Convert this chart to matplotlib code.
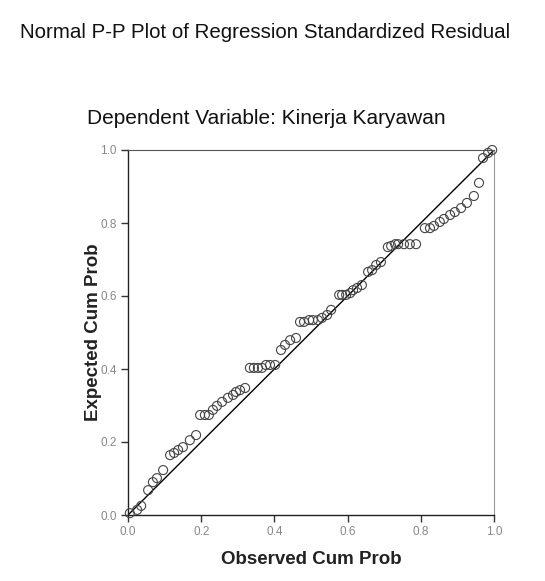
import matplotlib
matplotlib.use("Agg")
import matplotlib.pyplot as plt

plt.rcParams['font.family'] = ['Liberation Sans', 'DejaVu Sans']

observed = [0.005, 0.025, 0.036, 0.055, 0.068, 0.079, 0.096, 0.115, 0.126, 0.137,
            0.150, 0.169, 0.186, 0.197, 0.210, 0.221, 0.232, 0.243, 0.257, 0.273,
            0.287, 0.295, 0.306, 0.320, 0.333, 0.344, 0.355, 0.366, 0.377, 0.388,
            0.402, 0.418, 0.429, 0.443, 0.459, 0.470, 0.481, 0.495, 0.505, 0.519,
            0.530, 0.544, 0.555, 0.577, 0.585, 0.596, 0.607, 0.615, 0.626, 0.639,
            0.656, 0.667, 0.678, 0.691, 0.710, 0.719, 0.730, 0.738, 0.754, 0.770,
            0.787, 0.811, 0.825, 0.836, 0.852, 0.863, 0.880, 0.893, 0.910, 0.926,
            0.945, 0.959, 0.970, 0.984, 0.995]
expected = [0.005, 0.014, 0.025, 0.068, 0.090, 0.101, 0.123, 0.164, 0.170, 0.178,
            0.186, 0.205, 0.219, 0.274, 0.274, 0.274, 0.288, 0.299, 0.310, 0.321,
            0.329, 0.337, 0.342, 0.348, 0.403, 0.403, 0.403, 0.403, 0.411, 0.411,
            0.411, 0.452, 0.466, 0.479, 0.485, 0.529, 0.529, 0.534, 0.534, 0.534,
            0.540, 0.548, 0.562, 0.603, 0.603, 0.603, 0.608, 0.616, 0.622, 0.630,
            0.666, 0.671, 0.685, 0.693, 0.734, 0.737, 0.742, 0.742, 0.742, 0.742,
            0.742, 0.786, 0.786, 0.792, 0.803, 0.811, 0.822, 0.830, 0.841, 0.855,
            0.874, 0.910, 0.978, 0.992, 1.000]
ticks = [0.0, 0.2, 0.4, 0.6, 0.8, 1.0]
tick_labels = ["0.0", "0.2", "0.4", "0.6", "0.8", "1.0"]

fig = plt.figure(figsize=(5.45, 5.81), dpi=100)
ax = fig.add_axes([128/545, 1 - 515/581, 366/545, 365/581])

ax.plot([0, 1], [0, 1], color='black', lw=1.0, zorder=2)
ax.scatter(observed, expected, s=42, facecolors='none', edgecolors='#444444',
           linewidths=0.8, zorder=3, clip_on=False)

ax.set_xlim(0, 1)
ax.set_ylim(0, 1)
ax.set_xticks(ticks)
ax.set_xticklabels(tick_labels)
ax.set_yticks(ticks)
ax.set_yticklabels(tick_labels)
ax.tick_params(direction='out', length=5, width=1, color='#333333',
               labelsize=8.5, labelcolor='#888888', pad=3)

for side in ['left', 'bottom']:
    ax.spines[side].set_color('#222222')
    ax.spines[side].set_linewidth(1.0)
ax.spines['top'].set_color('#555555')
ax.spines['right'].set_color('#999999')

ax.set_xlabel('Observed Cum Prob', fontsize=13.5, fontweight='bold', color='#222222', labelpad=9)
ax.set_ylabel('Expected Cum Prob', fontsize=13.5, fontweight='bold', color='#222222', labelpad=-1)

fig.text(265/545, 1 - 32/581, 'Normal P-P Plot of Regression Standardized Residual',
         ha='center', va='center', fontsize=14.8, color='#111111')
fig.text(266/545, 1 - 118/581, 'Dependent Variable: Kinerja Karyawan',
         ha='center', va='center', fontsize=15, color='#111111')

fig.savefig('out.png', dpi=100)
